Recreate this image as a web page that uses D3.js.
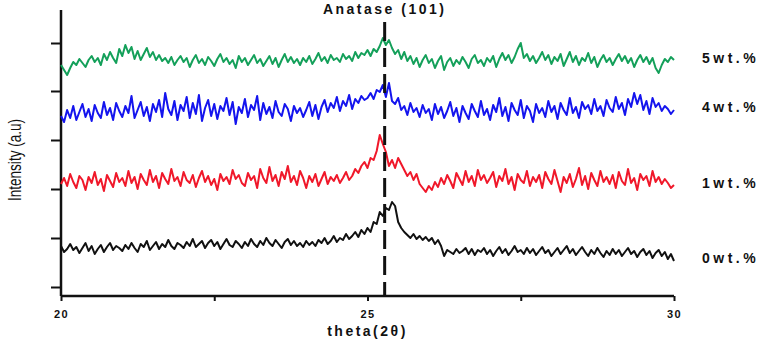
<!DOCTYPE html>
<html>
<head>
<meta charset="utf-8">
<script src="https://cdn.jsdelivr.net/npm/d3@7"></script>
<style>
  body { margin: 0; background: #fff; }
  text { font-family: "Liberation Sans", Arial, sans-serif; fill: #111; }
</style>
</head>
<body>
<svg id="chart" width="766" height="340"></svg>
<script>
// 2-theta scan: starts at 20 deg, one reading every 0.05 deg
const thetaStart = 20;
const thetaStep = 0.05;

// stacked intensities (a.u.)
const wt0 = [
  50,44,47,52,46,49,43,48,53,45,50,42,47,51,44,49,53,46,50,48,
  45,51,47,53,48,44,52,49,55,46,50,54,47,52,49,56,50,47,53,51,
  48,54,50,57,49,52,55,48,53,56,50,54,47,52,57,51,49,55,52,48,
  54,50,57,52,49,55,51,58,53,50,56,52,48,54,57,51,55,50,53,49,
  55,51,54,50,56,53,58,52,55,60,54,58,56,62,57,60,64,59,66,62,
  68,64,74,72,84,80,88,86,94,90,74,68,64,61,58,62,57,60,56,59,
  55,58,52,56,50,40,46,44,42,47,43,45,48,42,47,41,46,44,48,42,
  46,40,45,49,43,47,41,45,50,44,46,42,48,43,47,41,45,49,43,46,
  40,44,48,42,46,50,43,47,41,45,49,44,40,46,42,48,43,39,45,41,
  47,42,46,40,44,48,42,45,39,44,47,41,45,38,43,46,40,44,37,42,
  35
];
const wt1 = [
  112,118,110,122,114,108,120,116,106,119,113,124,111,117,105,121,115,109,123,114,
  118,110,125,113,119,107,122,116,111,126,114,120,108,123,117,112,127,115,119,110,
  124,116,113,121,109,118,125,114,120,111,117,106,122,115,119,112,126,117,121,113,
  110,123,116,120,108,127,118,113,129,115,121,110,124,117,130,114,120,111,125,118,
  108,120,114,122,110,117,124,112,119,115,121,113,118,124,116,120,127,123,130,134,
  128,138,136,145,161,152,144,130,136,128,138,132,126,120,124,116,122,112,108,104,
  110,106,114,109,118,112,121,115,108,123,117,111,125,114,120,110,126,116,121,113,
  118,124,109,120,115,127,112,119,106,122,116,113,125,110,119,114,121,108,124,117,
  112,126,115,104,119,113,122,109,117,128,111,120,107,123,116,110,125,114,119,112,
  121,108,124,115,111,127,113,118,106,122,116,120,110,125,114,119,112,117,113,108,
  111
];
const wt4 = [
  180,174,186,178,190,176,184,192,179,187,175,191,183,178,194,181,188,176,193,185,
  179,190,183,200,178,186,194,180,189,175,192,184,196,179,203,187,181,195,176,191,
  185,199,178,193,182,201,175,188,196,180,192,177,190,185,198,181,194,172,189,183,
  197,179,191,186,200,176,193,182,189,178,195,184,180,192,187,175,190,183,188,179,
  186,194,180,191,177,189,196,184,193,188,199,185,195,190,201,187,197,193,200,196,
  198,203,197,206,204,211,199,213,195,192,198,186,190,181,193,184,188,179,191,183,
  187,176,192,182,189,178,185,194,180,188,174,190,183,177,192,185,179,195,181,187,
  176,191,184,198,180,189,175,193,186,181,196,178,190,185,174,192,183,188,179,195,
  184,190,177,193,186,181,198,183,189,178,194,187,191,182,197,185,190,180,196,188,
  184,199,187,193,181,197,189,203,192,201,186,195,182,198,189,193,185,190,187,182,
  186
];
const wt5 = [
  231,226,221,228,234,231,237,233,229,236,240,234,238,231,242,236,244,238,233,247,
  240,251,243,249,237,245,236,242,248,239,244,236,241,235,238,233,239,231,236,240,
  234,238,229,236,241,233,237,231,239,235,230,237,242,234,238,232,236,228,240,234,
  238,231,236,241,233,237,230,235,240,232,238,229,236,242,234,239,233,237,231,238,
  234,240,232,237,243,235,239,233,241,236,238,234,242,237,240,235,244,238,243,241,
  246,240,247,244,250,258,251,256,248,242,246,237,244,235,240,232,238,229,236,241,
  233,237,228,235,240,226,234,238,230,236,232,239,234,228,237,241,233,236,230,238,
  234,240,229,237,243,236,241,233,239,247,253,238,242,235,240,233,238,244,236,241,
  232,239,235,242,230,237,244,234,240,231,238,235,243,233,239,229,236,241,234,238,
  231,237,242,235,240,233,238,229,236,241,234,239,232,238,228,223,231,237,234,239,
  236
];

const seriesNames = ['0wt.%', '1wt.%', '4wt.%', '5wt.%'];
const seriesValues = [wt0, wt1, wt4, wt5];
const seriesColors = ['#111111', '#f0182a', '#1414ee', '#14a05a'];
const labelLevels = [38, 113, 189, 238];

const xTickValues = [20, 22.5, 25, 27.5, 30];
const xTickLabels = { 20: '20', 25: '25', 30: '30' };
const yTickValues = [9, 58, 107, 156, 205, 253];
const anatasePeak = 25.28;

const svg = d3.select('#chart');

// Define dimensions and margins
const margin = { top: 10, right: 92, bottom: 44, left: 61 };
const width = +svg.attr('width') - margin.left - margin.right;
const height = +svg.attr('height') - margin.top - margin.bottom;

const x = d3.scaleLinear().domain([20, 30]).range([margin.left, margin.left + width]);
const y = d3.scaleLinear().domain([0, 286]).range([margin.top + height, margin.top]);

// Axes
const xAxis = svg.append('g')
  .attr('transform', `translate(0, ${margin.top + height})`)
  .call(d3.axisBottom(x).tickValues(xTickValues).tickSize(5).tickPadding(9)
    .tickFormat((d) => xTickLabels[d] || ''));
xAxis.select('.domain').attr('stroke', '#111').attr('stroke-width', 2.5).attr('d', `M${margin.left},0H${margin.left + width}`);
xAxis.selectAll('.tick line').attr('stroke', '#111').attr('stroke-width', 2);
xAxis.selectAll('.tick text')
  .style('font-size', '11px').style('font-weight', 'bold').style('letter-spacing', '1.5px').attr('fill', '#111');

const yAxis = svg.append('g')
  .attr('transform', `translate(${margin.left}, 0)`)
  .call(d3.axisLeft(y).tickValues(yTickValues).tickSize(10).tickFormat(''));
yAxis.select('.domain').attr('stroke', '#111').attr('stroke-width', 2.5).attr('d', `M0,${margin.top}V${margin.top + height}`);
yAxis.selectAll('.tick line').attr('stroke', '#111').attr('stroke-width', 2);

// Traces
const line = d3.line()
  .x((d, i) => x(thetaStart + i * thetaStep))
  .y((d) => y(d));

svg.selectAll('.trace')
  .data(seriesValues)
  .enter()
  .append('path')
  .attr('class', 'trace')
  .attr('d', (d) => line(d))
  .attr('fill', 'none')
  .attr('stroke', (d, i) => seriesColors[i])
  .attr('stroke-width', 2)
  .attr('stroke-linejoin', 'round');

// Anatase (101) reference line
svg.append('line')
  .attr('x1', x(anatasePeak)).attr('x2', x(anatasePeak))
  .attr('y1', 22).attr('y2', margin.top + height)
  .attr('stroke', '#111')
  .attr('stroke-width', 3)
  .attr('stroke-dasharray', '19,7');

svg.append('text')
  .attr('x', x(anatasePeak))
  .attr('y', 14)
  .attr('text-anchor', 'middle')
  .style('font-size', '14px')
  .style('font-weight', 'bold')
  .style('letter-spacing', '2.5px')
  .text('Anatase (101)');

// Series labels
svg.selectAll('.slabel')
  .data(seriesNames)
  .enter()
  .append('text')
  .attr('class', 'slabel')
  .attr('x', 702)
  .attr('y', (d, i) => y(labelLevels[i]) + 5)
  .style('font-size', '14px')
  .style('font-weight', 'bold')
  .style('letter-spacing', '3.5px')
  .text((d) => d);

// Axis titles
svg.append('text')
  .attr('x', x(25))
  .attr('y', 336)
  .attr('text-anchor', 'middle')
  .style('font-size', '14px')
  .style('font-weight', 'bold')
  .style('letter-spacing', '2.5px')
  .text('theta(2θ)');

svg.append('text')
  .attr('transform', 'translate(21, 160) rotate(-90)')
  .attr('text-anchor', 'middle')
  .attr('textLength', 82)
  .attr('lengthAdjust', 'spacingAndGlyphs')
  .style('font-size', '19px')
  .text('Intensity (a.u)');
</script>
</body>
</html>
